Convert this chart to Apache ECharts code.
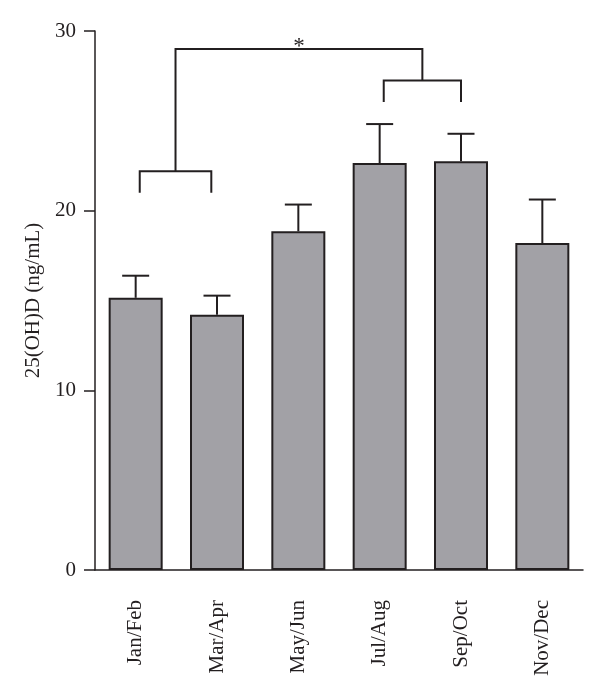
<!DOCTYPE html>
<html>
<head>
<meta charset="utf-8">
<script src="https://cdn.jsdelivr.net/npm/echarts@6/dist/echarts.min.js"></script>
<style>
  html, body { margin: 0; padding: 0; background: #fff; }
  #chart { width: 600px; height: 686px; }
</style>
</head>
<body>
<div id="chart"></div>
<script>
// two-month periods and serum 25(OH)D, mean + SEM (ng/mL)
const categories = ['Jan/Feb', 'Mar/Apr', 'May/Jun', 'Jul/Aug', 'Sep/Oct', 'Nov/Dec'];
const means = [15.15, 14.2, 18.85, 22.65, 22.75, 18.2];
const sems = [1.23, 1.07, 1.49, 2.17, 1.53, 2.42];
const yTicks = [0, 10, 20, 30];

// significance brackets: [left category, right category, bar level, leg end]
const lowBracket = [0.05, 0.93, 22.2, 21.0];
const highBracket = [3.05, 4.0, 27.25, 26.05];
const outerLevel = 29.0;
const starLabel = '*';

const font = '"Liberation Serif", "DejaVu Serif", serif';
const ink = '#231f20';

var chartDom = document.getElementById('chart');
var myChart = echarts.init(chartDom);

// category axis snaps to whole indices, so add the fraction by hand
function at(api, x, y) {
    var i = Math.round(x);
    var p = api.coord([i, y]);
    return [p[0] + (x - i) * api.size([1, 0])[0], p[1]];
}

function bracketPath(api, b) {
    return [at(api, b[0], b[3]), at(api, b[0], b[2]), at(api, b[1], b[2]), at(api, b[1], b[3])];
}

var option = {
    animation: false,
    grid: { left: 95, right: 17, top: 31, bottom: 116 },
    xAxis: {
        type: 'category',
        data: categories,
        axisLine: { lineStyle: { color: ink, width: 1.5 } },
        axisTick: { alignWithLabel: true, length: 17, lineStyle: { color: ink, width: 1.5 } },
        axisLabel: {
            rotate: 90,
            margin: 30,
            color: ink,
            fontFamily: font,
            fontSize: 21,
        },
    },
    yAxis: {
        type: 'value',
        min: yTicks[0],
        max: yTicks[yTicks.length - 1],
        interval: 10,
        name: '25(OH)D (ng/mL)',
        nameLocation: 'middle',
        nameGap: 50,
        nameTextStyle: { color: ink, fontFamily: font, fontSize: 21 },
        axisLine: { show: true, lineStyle: { color: ink, width: 1.5 } },
        axisTick: { show: true, length: 11, lineStyle: { color: ink, width: 1.5 } },
        axisLabel: { color: ink, fontFamily: font, fontSize: 21, margin: 19 },
        splitLine: { show: false },
    },
    series: [
        {
            type: 'bar',
            data: means,
            barWidth: 54,
            itemStyle: { color: '#a2a1a6', borderColor: ink, borderWidth: 2 },
            z: 2,
        },
        {
            // error bars (upper whisker only)
            type: 'custom',
            z: 3,
            data: means.map((m, i) => [i, m, m + sems[i]]),
            renderItem: function (params, api) {
                var base = api.coord([api.value(0), api.value(1)]);
                var top = api.coord([api.value(0), api.value(2)]);
                var half = 13.5;
                var style = { stroke: ink, lineWidth: 2 };
                return {
                    type: 'group',
                    children: [
                        { type: 'line', shape: { x1: base[0], y1: base[1], x2: top[0], y2: top[1] }, style: style },
                        { type: 'line', shape: { x1: top[0] - half, y1: top[1], x2: top[0] + half, y2: top[1] }, style: style },
                    ],
                };
            },
        },
        {
            // significance brackets
            type: 'custom',
            z: 3,
            data: [[0]],
            renderItem: function (params, api) {
                var style = { stroke: ink, lineWidth: 2, fill: null };
                var lowMid = (lowBracket[0] + lowBracket[1]) / 2;
                var highMid = (highBracket[0] + highBracket[1]) / 2;
                var outer = [
                    at(api, lowMid, lowBracket[2]),
                    at(api, lowMid, outerLevel),
                    at(api, highMid, outerLevel),
                    at(api, highMid, highBracket[2]),
                ];
                var starPos = at(api, (lowMid + highMid) / 2, outerLevel);
                return {
                    type: 'group',
                    children: [
                        { type: 'polyline', shape: { points: bracketPath(api, lowBracket) }, style: style },
                        { type: 'polyline', shape: { points: bracketPath(api, highBracket) }, style: style },
                        { type: 'polyline', shape: { points: outer }, style: style },
                        {
                            type: 'text',
                            x: starPos[0],
                            y: starPos[1] - 2,
                            style: {
                                text: starLabel,
                                fill: ink,
                                font: '23px ' + font,
                                textAlign: 'center',
                                textVerticalAlign: 'middle',
                            },
                        },
                    ],
                };
            },
        },
    ],
};

option && myChart.setOption(option);
</script>
</body>
</html>
